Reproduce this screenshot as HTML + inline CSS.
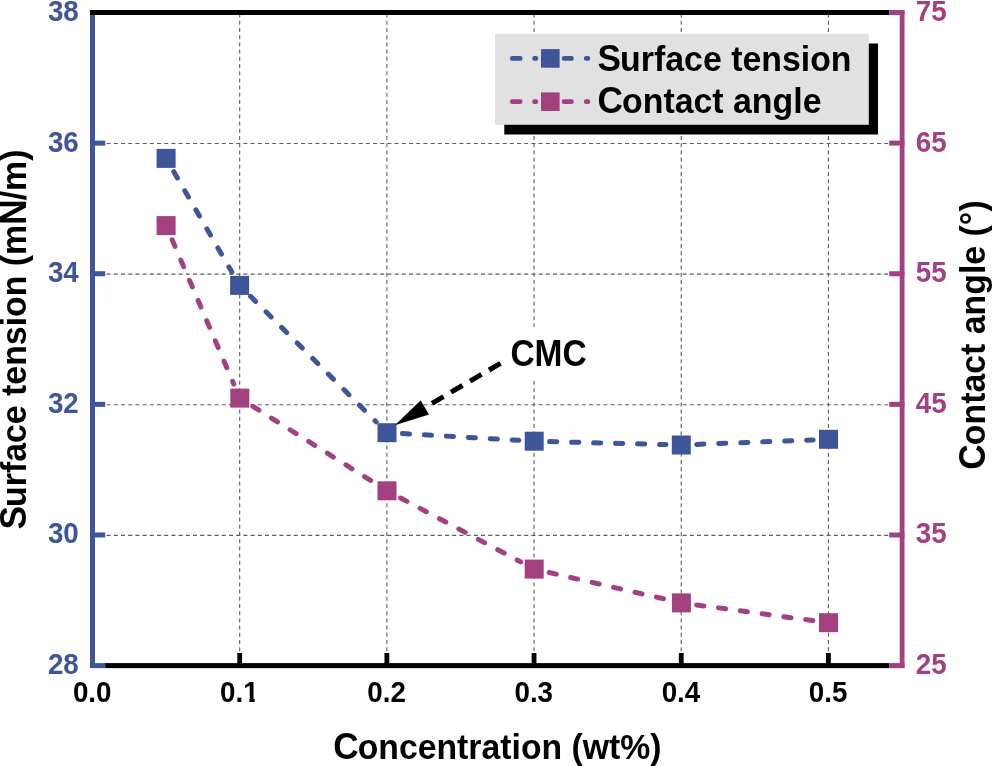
<!DOCTYPE html>
<html lang="en"><head><meta charset="utf-8"><title>Surface tension and contact angle vs concentration</title>
<style>html,body{margin:0;padding:0;background:#fff}svg{display:block;will-change:transform}</style></head>
<body>
<svg width="993" height="766" viewBox="0 0 993 766">
<rect width="993" height="766" fill="#fff"/>
<g stroke="#5c5c5c" stroke-width="1.1" fill="none">
<line x1="239.68" y1="13.6" x2="239.68" y2="653" stroke-dasharray="4 3.2"/>
<line x1="386.86" y1="13.6" x2="386.86" y2="653" stroke-dasharray="4 3.2"/>
<line x1="534.04" y1="13.6" x2="534.04" y2="653" stroke-dasharray="4 3.2"/>
<line x1="681.22" y1="13.6" x2="681.22" y2="653" stroke-dasharray="4 3.2"/>
<line x1="828.40" y1="13.6" x2="828.40" y2="653" stroke-dasharray="4 3.2"/>
<line x1="106.6" y1="535.38" x2="889" y2="535.38" stroke-dasharray="4 3.2"/>
<line x1="106.6" y1="404.76" x2="889" y2="404.76" stroke-dasharray="4 3.2"/>
<line x1="106.6" y1="274.14" x2="889" y2="274.14" stroke-dasharray="4 3.2"/>
<line x1="106.6" y1="143.52" x2="889" y2="143.52" stroke-dasharray="4 3.2"/>
</g>
<rect x="504.3" y="43.5" width="373.7" height="91" fill="#000"/>
<rect x="495" y="33.8" width="373.8" height="91" fill="#E1E1E1"/>
<g stroke="#3E5599" stroke-width="4.7" stroke-linecap="round">
<line x1="512.3" y1="58.4" x2="520.2" y2="58.4"/>
<line x1="534.5" y1="58.4" x2="535.9" y2="58.4"/>
<line x1="564.1" y1="58.4" x2="571.5" y2="58.4"/>
<line x1="586.2" y1="58.4" x2="587.9" y2="58.4"/>
</g>
<rect x="541" y="49.1" width="18.6" height="18.6" fill="#3E5599"/>
<g stroke="#A24080" stroke-width="4.7" stroke-linecap="round">
<line x1="512.3" y1="101.7" x2="520.2" y2="101.7"/>
<line x1="534.5" y1="101.7" x2="535.9" y2="101.7"/>
<line x1="564.1" y1="101.7" x2="571.5" y2="101.7"/>
<line x1="586.2" y1="101.7" x2="587.9" y2="101.7"/>
</g>
<rect x="541" y="92.4" width="18.6" height="18.6" fill="#A24080"/>
<text transform="translate(597.60,70.70) scale(0.996,1.02)" font-size="34" font-family="Liberation Sans, Arial, Helvetica, sans-serif" font-weight="bold" fill="#000"><tspan font-size="35.4">S</tspan><tspan dx="-1.0">u</tspan>rface tension</text>
<text transform="translate(597.60,113.10) scale(0.996,1.02)" font-size="34" font-family="Liberation Sans, Arial, Helvetica, sans-serif" font-weight="bold" fill="#000"><tspan font-size="35.4">C</tspan><tspan dx="-1.0">o</tspan>ntact angle</text>
<rect x="90" y="10" width="5" height="658" fill="#3E5599"/>
<rect x="90" y="663.10" width="15.2" height="5" fill="#3E5599"/>
<rect x="90" y="532.48" width="15.2" height="5" fill="#3E5599"/>
<rect x="90" y="401.86" width="15.2" height="5" fill="#3E5599"/>
<rect x="90" y="271.24" width="15.2" height="5" fill="#3E5599"/>
<rect x="90" y="140.62" width="15.2" height="5" fill="#3E5599"/>
<rect x="90" y="10.00" width="15.2" height="5" fill="#3E5599"/>
<rect x="105.2" y="663.1" width="784" height="5" fill="#000"/>
<rect x="237.28" y="653" width="4.8" height="12" fill="#000"/>
<rect x="384.46" y="653" width="4.8" height="12" fill="#000"/>
<rect x="531.64" y="653" width="4.8" height="12" fill="#000"/>
<rect x="678.82" y="653" width="4.8" height="12" fill="#000"/>
<rect x="826.00" y="653" width="4.8" height="12" fill="#000"/>
<rect x="90" y="10" width="799.2" height="5" fill="#000"/>
<rect x="899.7" y="10" width="4.8" height="658.1" fill="#A24080"/>
<rect x="889.2" y="663.10" width="15.3" height="5" fill="#A24080"/>
<rect x="889.2" y="532.48" width="15.3" height="5" fill="#A24080"/>
<rect x="889.2" y="401.86" width="15.3" height="5" fill="#A24080"/>
<rect x="889.2" y="271.24" width="15.3" height="5" fill="#A24080"/>
<rect x="889.2" y="140.62" width="15.3" height="5" fill="#A24080"/>
<rect x="889.2" y="10.00" width="15.3" height="5" fill="#A24080"/>
<g stroke="#A24080" stroke-width="5" stroke-linecap="round" stroke-dasharray="7.2 14.8" fill="none">
<line x1="172.15" y1="239.76" x2="233.75" y2="383.94"/>
<line x1="252.83" y1="406.31" x2="373.97" y2="482.59"/>
<line x1="400.60" y1="498.03" x2="520.60" y2="561.87"/>
<line x1="549.21" y1="572.55" x2="666.39" y2="599.45"/>
<line x1="696.66" y1="604.95" x2="813.24" y2="620.65"/>
</g>
<rect x="156.60" y="216.10" width="19" height="19" fill="#A24080"/>
<rect x="230.30" y="388.60" width="19" height="19" fill="#A24080"/>
<rect x="377.50" y="481.30" width="19" height="19" fill="#A24080"/>
<rect x="524.70" y="559.60" width="19" height="19" fill="#A24080"/>
<rect x="671.90" y="593.40" width="19" height="19" fill="#A24080"/>
<rect x="819.00" y="613.20" width="19" height="19" fill="#A24080"/>
<g stroke="#3E5599" stroke-width="5" stroke-linecap="round" stroke-dasharray="7.2 14.8" fill="none">
<line x1="173.81" y1="171.73" x2="231.89" y2="272.07"/>
<line x1="250.49" y1="296.29" x2="376.11" y2="421.81"/>
<line x1="402.37" y1="433.59" x2="518.83" y2="440.31"/>
<line x1="549.59" y1="441.60" x2="665.91" y2="444.60"/>
<line x1="696.69" y1="444.40" x2="813.11" y2="439.90"/>
</g>
<rect x="156.60" y="148.90" width="19" height="19" fill="#3E5599"/>
<rect x="230.10" y="275.90" width="19" height="19" fill="#3E5599"/>
<rect x="377.50" y="423.20" width="19" height="19" fill="#3E5599"/>
<rect x="524.70" y="431.70" width="19" height="19" fill="#3E5599"/>
<rect x="671.80" y="435.50" width="19" height="19" fill="#3E5599"/>
<rect x="819.00" y="429.80" width="19" height="19" fill="#3E5599"/>
<rect x="506" y="327" width="86" height="54" fill="#fff"/>
<text transform="translate(510.40,365.90) scale(0.985,1.09)" font-size="34" font-family="Liberation Sans, Arial, Helvetica, sans-serif" font-weight="bold" fill="#000">CMC</text>
<line x1="500.5" y1="363.3" x2="424.8" y2="407.5" stroke="#000" stroke-width="5" stroke-dasharray="13.3 8.7"/>
<polygon points="394.8,425.3 420.6,400.6 429.1,414.4" fill="#000"/>
<text transform="translate(78.80,674.10) scale(0.992,1.065)" font-size="28" text-anchor="end" font-family="Liberation Sans, Arial, Helvetica, sans-serif" font-weight="bold" fill="#3E5599">28</text>
<text transform="translate(78.80,543.48) scale(0.992,1.065)" font-size="28" text-anchor="end" font-family="Liberation Sans, Arial, Helvetica, sans-serif" font-weight="bold" fill="#3E5599">30</text>
<text transform="translate(78.80,412.86) scale(0.992,1.065)" font-size="28" text-anchor="end" font-family="Liberation Sans, Arial, Helvetica, sans-serif" font-weight="bold" fill="#3E5599">32</text>
<text transform="translate(78.80,282.24) scale(0.992,1.065)" font-size="28" text-anchor="end" font-family="Liberation Sans, Arial, Helvetica, sans-serif" font-weight="bold" fill="#3E5599">34</text>
<text transform="translate(78.80,151.62) scale(0.992,1.065)" font-size="28" text-anchor="end" font-family="Liberation Sans, Arial, Helvetica, sans-serif" font-weight="bold" fill="#3E5599">36</text>
<text transform="translate(78.80,21.00) scale(0.992,1.065)" font-size="28" text-anchor="end" font-family="Liberation Sans, Arial, Helvetica, sans-serif" font-weight="bold" fill="#3E5599">38</text>
<text transform="translate(915.70,674.10) scale(0.992,1.065)" font-size="28" font-family="Liberation Sans, Arial, Helvetica, sans-serif" font-weight="bold" fill="#A24080">25</text>
<text transform="translate(915.70,543.48) scale(0.992,1.065)" font-size="28" font-family="Liberation Sans, Arial, Helvetica, sans-serif" font-weight="bold" fill="#A24080">35</text>
<text transform="translate(915.70,412.86) scale(0.992,1.065)" font-size="28" font-family="Liberation Sans, Arial, Helvetica, sans-serif" font-weight="bold" fill="#A24080">45</text>
<text transform="translate(915.70,282.24) scale(0.992,1.065)" font-size="28" font-family="Liberation Sans, Arial, Helvetica, sans-serif" font-weight="bold" fill="#A24080">55</text>
<text transform="translate(915.70,151.62) scale(0.992,1.065)" font-size="28" font-family="Liberation Sans, Arial, Helvetica, sans-serif" font-weight="bold" fill="#A24080">65</text>
<text transform="translate(915.70,21.00) scale(0.992,1.065)" font-size="28" font-family="Liberation Sans, Arial, Helvetica, sans-serif" font-weight="bold" fill="#A24080">75</text>
<text transform="translate(92.20,701.50) scale(0.992,1.065)" font-size="28" text-anchor="middle" font-family="Liberation Sans, Arial, Helvetica, sans-serif" font-weight="bold" fill="#000">0.0</text>
<text transform="translate(239.38,701.50) scale(0.992,1.065)" font-size="28" text-anchor="middle" font-family="Liberation Sans, Arial, Helvetica, sans-serif" font-weight="bold" fill="#000">0.1</text>
<text transform="translate(386.56,701.50) scale(0.992,1.065)" font-size="28" text-anchor="middle" font-family="Liberation Sans, Arial, Helvetica, sans-serif" font-weight="bold" fill="#000">0.2</text>
<text transform="translate(533.74,701.50) scale(0.992,1.065)" font-size="28" text-anchor="middle" font-family="Liberation Sans, Arial, Helvetica, sans-serif" font-weight="bold" fill="#000">0.3</text>
<text transform="translate(680.92,701.50) scale(0.992,1.065)" font-size="28" text-anchor="middle" font-family="Liberation Sans, Arial, Helvetica, sans-serif" font-weight="bold" fill="#000">0.4</text>
<text transform="translate(828.10,701.50) scale(0.992,1.065)" font-size="28" text-anchor="middle" font-family="Liberation Sans, Arial, Helvetica, sans-serif" font-weight="bold" fill="#000">0.5</text>
<rect x="243.28" y="697.6" width="6.1" height="5" fill="#fff"/>
<rect x="254.68" y="697.6" width="5" height="5" fill="#fff"/>
<text transform="translate(497.40,758.50) scale(0.993,1.02)" font-size="34" text-anchor="middle" font-family="Liberation Sans, Arial, Helvetica, sans-serif" font-weight="bold" fill="#000"><tspan font-size="35.4">C</tspan><tspan dx="-1.0">o</tspan>ncentration (wt%)</text>
<text transform="translate(26.20,339.50) rotate(-90) scale(0.996,1.02)" font-size="34" text-anchor="middle" font-family="Liberation Sans, Arial, Helvetica, sans-serif" font-weight="bold" fill="#000"><tspan font-size="35.4">S</tspan><tspan dx="-1.0">u</tspan>rface tension (m<tspan font-size="35.4">N</tspan><tspan dx="-1.0">/</tspan>m)</text>
<text transform="translate(985.40,335.00) rotate(-90) scale(0.996,1.02)" font-size="34" text-anchor="middle" font-family="Liberation Sans, Arial, Helvetica, sans-serif" font-weight="bold" fill="#000"><tspan font-size="35.4">C</tspan><tspan dx="-1.0">o</tspan>ntact angle (°)</text>
</svg>
</body></html>
